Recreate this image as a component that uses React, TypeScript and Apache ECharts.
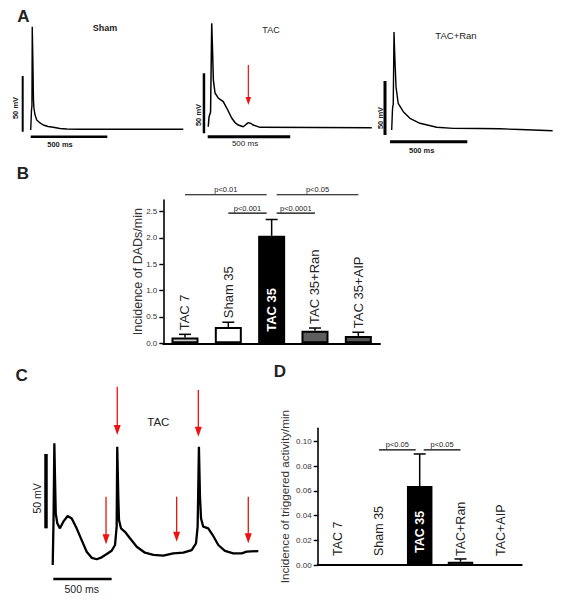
import React, { useEffect, useRef } from 'react';
import * as echarts from 'echarts';

const FONT = 'Liberation Sans, Arial, Helvetica, sans-serif';
const RED = '#ee1111';
const INK = '#222222';

// ---------- Panel A: action potential traces [time ms, potential mV] ----------
const shamTrace = [
  [70, -80.6], [75, -62.7], [78, -59], [80, 12.1], [84, -17.8], [88, -53.7], [91, -61], [98, -67],
  [109, -71.7], [131, -74.3], [152, -76.1], [183, -77.5], [217, -78.2], [261, -79.3], [305, -79.7],
  [392, -80], [1066, -80],
];
const tacTrace = [
  [50, -79.2], [55, -70.8], [64, -67], [71, 7], [76, -15.2], [81, -40.2], [91, -51.1], [111, -55.3],
  [141, -58.3], [162, -63.6], [192, -71.9], [212, -75.7], [232, -77.8], [262, -79.2], [279, -77.3],
  [293, -75.8], [309, -76.5], [323, -77.8], [364, -79.7], [1041, -80],
];
const ranTrace = [
  [108, -80.9], [113, -62.4], [114.5, -59.4], [118, -57.4], [123, 9.9], [129, -16.3], [136, -41],
  [150, -56.3], [183, -64], [226, -70.1], [291, -74.7], [399, -78.4], [506, -79.4], [679, -79.5],
  [809, -79.8], [938, -80.5], [1149, -81.6],
];
// arrows: [time, top mV, tip mV]
const arrowsA = [[293, -27.8, -61.1]];

// ---------- Panel C: triggered activity trace ----------
const cTrace = [
  [109, -88.3], [116, -58], [123, -6.4], [129, -31.1], [135, -53.5], [148, -60.2], [171, -63.6],
  [200, -59.1], [237, -55.3], [272, -56.9], [314, -63.6], [357, -71.5], [400, -79.3], [443, -83.4],
  [486, -84.4], [529, -83.1], [572, -80.9], [614, -78.7], [643, -74.8], [657, -62.5], [662, -8.7],
  [671, -42.3], [677, -58], [694, -63.6], [728, -65.9], [771, -70.3], [829, -76], [900, -80],
  [971, -81.5], [1057, -82], [1142, -80.4], [1228, -80], [1300, -78.2], [1337, -73.7], [1351, -62.5],
  [1362, -8.7], [1371, -42.3], [1380, -56.9], [1399, -62.5], [1442, -63.6], [1480, -68.1],
  [1528, -74.8], [1585, -78.7], [1656, -80.4], [1728, -80.4], [1771, -79.3], [1871, -78.9],
];
const arrowsC = [
  [662, 31.7, -0.8], [1357, 29.5, -1.9], [566, -42.3, -74.3], [1171, -42.3, -72.6], [1785, -42.3, -73.7],
];

// scale bars: vertical [t, v1, v2], horizontal [t1, t2, v]
const scaleV = [[17.6, -82.2, -32.2], [24, -84.7, -34.7], [64.7, -85.6, -35.6], [51.4, -63.6, -13.6]];
const scaleH = [[70, 570, -86.6], [46.7, 546.7, -87.5], [97, 597, -91.8], [114, 614, -97.7]];

// ---------- Panel B ----------
const catsB = ['TAC 7', 'Sham 35', 'TAC 35', 'TAC 35+Ran', 'TAC 35+AIP'];
const meanB = [0.11, 0.31, 2.04, 0.24, 0.14];
const semB = [0.06, 0.09, 0.31, 0.05, 0.07];
const ticksB = [0, 0.5, 1, 1.5, 2, 2.5];
const sigB = [[0, 2, 2.82], [2, 4, 2.82], [1, 2, 2.47], [2, 3, 2.47]];
const sigTextB = ['p<0.01', 'p<0.05', 'p<0.001', 'p<0.0001'];

// ---------- Panel D ----------
const catsD = ['TAC 7', 'Sham 35', 'TAC 35', 'TAC+Ran', 'TAC+AIP'];
const meanD = [0, 0, 0.064, 0.0027, 0];
const semD = [0, 0, 0.026, 0.0022, 0];
const ticksD = [0, 0.02, 0.04, 0.06, 0.08, 0.1];
const sigD = [[1, 2, 0.0933], [2, 3, 0.0933]];
const sigTextD = ['p<0.05', 'p<0.05'];

// styles
const barColorsB = ['#cdcdcd', '#ffffff', '#000000', '#5e5e5e', '#545454'];
const barColorsD = ['#ffffff', '#ffffff', '#000000', '#5e5e5e', '#ffffff'];
const PEAK = 2;

function traceGrid(left: number, top: number, width: number, height: number) {
  return { left, top, width, height, outerBoundsMode: 'none', containLabel: false };
}

function hiddenValueAxis(gridIndex: number, min: number, max: number) {
  return { type: 'value', gridIndex, min, max, show: false, splitLine: { show: false } };
}

function arrowRender(headW: number, headL: number, lw: number) {
  return (params: any, api: any) => {
    const p1 = api.coord([api.value(0), api.value(1)]);
    const p2 = api.coord([api.value(0), api.value(2)]);
    return {
      type: 'group',
      children: [
        { type: 'line', shape: { x1: p1[0], y1: p1[1], x2: p2[0], y2: p2[1] - headL + 1 }, style: { stroke: RED, lineWidth: lw } },
        {
          type: 'polygon',
          shape: { points: [[p2[0] - headW / 2, p2[1] - headL], [p2[0] + headW / 2, p2[1] - headL], [p2[0], p2[1]]] },
          style: { fill: RED },
        },
      ],
    };
  };
}

function barDeco(cats: string[], fontSize: number, mode: 'B' | 'D') {
  return (params: any, api: any) => {
    const i = params.dataIndex;
    const mean = api.value(1);
    const top = api.value(2);
    const base = api.coord([i, 0]);
    const pm = api.coord([i, mean]);
    const pt = api.coord([i, top]);
    const cx = base[0];
    const children: any[] = [];
    if (top > mean) {
      children.push({ type: 'line', shape: { x1: cx, y1: pm[1], x2: cx, y2: pt[1] }, style: { stroke: '#000', lineWidth: 1.5 } });
      children.push({ type: 'line', shape: { x1: cx - 6, y1: pt[1], x2: cx + 6, y2: pt[1] }, style: { stroke: '#000', lineWidth: 1.5 } });
    }
    const inside = i === PEAK;
    let ly: number;
    if (mode === 'B') ly = inside ? base[1] - 11.5 : pt[1] - 4;
    else ly = inside ? base[1] - 12 : base[1] - 9;
    children.push({
      type: 'text',
      x: cx,
      y: ly,
      rotation: Math.PI / 2,
      style: {
        text: cats[i],
        fill: inside ? '#ffffff' : INK,
        fontSize,
        fontFamily: FONT,
        fontWeight: inside ? 'bold' : 'normal',
        align: 'left',
        verticalAlign: 'middle',
      },
    });
    return { type: 'group', children };
  };
}

function sigRender(texts: string[], gap: number) {
  return (params: any, api: any) => {
    const a = api.value(0);
    const b = api.value(1);
    const lv = api.value(2);
    const p1 = api.coord([a, lv]);
    const p2 = api.coord([b, lv]);
    const x1 = p1[0] + (a === PEAK ? gap : 0);
    const x2 = p2[0] - (b === PEAK ? gap : 0);
    return {
      type: 'group',
      children: [
        { type: 'line', shape: { x1, y1: p1[1], x2, y2: p1[1] }, style: { stroke: '#000', lineWidth: 1.2 } },
        {
          type: 'text',
          x: (x1 + x2) / 2,
          y: p1[1] - 5,
          style: { text: texts[params.dataIndex], fill: INK, fontSize: 7.5, fontFamily: FONT, align: 'center', verticalAlign: 'middle' },
        },
      ],
    };
  };
}

function barValueAxis(gridIndex: number, max: number, ticks: number[], digits: number, name: string, nameGap: number, nameSize: number) {
  return {
    type: 'value',
    gridIndex,
    min: 0,
    max,
    interval: ticks[1] - ticks[0],
    axisLine: { show: true, lineStyle: { color: '#000', width: 1.6 } },
    axisTick: { show: true, length: 4, inside: false, customValues: ticks, lineStyle: { color: '#000', width: 1.4 } },
    axisLabel: {
      show: true,
      customValues: ticks,
      formatter: (v: number) => v.toFixed(digits),
      fontSize: 8,
      fontFamily: FONT,
      color: '#333',
      margin: 6,
    },
    splitLine: { show: false },
    name,
    nameLocation: 'middle',
    nameGap,
    nameMoveOverlap: false,
    nameTextStyle: { fontSize: nameSize, fontFamily: FONT, color: '#333' },
  };
}

function catAxis(gridIndex: number, cats: string[]) {
  return {
    type: 'category',
    gridIndex,
    data: cats,
    axisLine: { show: true, onZero: false, lineStyle: { color: '#000', width: 2 } },
    axisTick: { show: false },
    axisLabel: { show: false },
    splitLine: { show: false },
  };
}

function txt(text: string, x: number, y: number, fontSize: number, weight = 'normal', rot = 0) {
  return {
    type: 'text',
    x,
    y,
    rotation: rot,
    style: { text, fontSize, fontFamily: FONT, fontWeight: weight, fill: INK, align: 'center', verticalAlign: 'middle' },
  };
}

function buildOption() {
  const traceSeries: any[] = [];
  const traces = [shamTrace, tacTrace, ranTrace, cTrace];
  const traceWidths = [1.4, 1.5, 1.4, 2.3];
  const vWidths = [2, 2.5, 3, 3.5];
  const hWidths = [2.5, 3, 3, 2.5];
  traces.forEach((tr, g) => {
    traceSeries.push({
      type: 'line', xAxisIndex: g, yAxisIndex: g, data: tr, showSymbol: false, symbol: 'none',
      lineStyle: { color: '#000', width: traceWidths[g] }, silent: true,
    });
    const v = scaleV[g];
    traceSeries.push({
      type: 'line', xAxisIndex: g, yAxisIndex: g, data: [[v[0], v[1]], [v[0], v[2]]], symbol: 'none',
      lineStyle: { color: '#000', width: vWidths[g], cap: 'butt' }, silent: true,
    });
    const h = scaleH[g];
    traceSeries.push({
      type: 'line', xAxisIndex: g, yAxisIndex: g, data: [[h[0], h[2]], [h[1], h[2]]], symbol: 'none',
      lineStyle: { color: '#000', width: hWidths[g], cap: 'butt' }, silent: true,
    });
  });

  return {
    animation: false,
    backgroundColor: '#ffffff',
    grid: [
      traceGrid(20, 17.9, 168.5, 133.7),
      traceGrid(200, 7.7, 181.5, 144),
      traceGrid(375, 21, 185.5, 129.6),
      traceGrid(40, 374.4, 221.7, 222.9),
      traceGrid(163.3, 200, 216.7, 143.3),
      traceGrid(317.7, 428.3, 204, 136.7),
    ],
    xAxis: [
      hiddenValueAxis(0, 0, 1100),
      hiddenValueAxis(1, 0, 1100),
      hiddenValueAxis(2, 0, 1200),
      hiddenValueAxis(3, 0, 1900),
      catAxis(4, catsB),
      catAxis(5, catsD),
    ],
    yAxis: [
      hiddenValueAxis(0, -100, 20),
      hiddenValueAxis(1, -100, 20),
      hiddenValueAxis(2, -100, 20),
      hiddenValueAxis(3, -110, 40),
      barValueAxis(4, 2.72, ticksB, 1, 'Incidence of DADs/min', 18.5, 12.5),
      barValueAxis(5, 0.1108, ticksD, 2, 'Incidence of triggered activity/min', 27, 11.7),
    ],
    series: [
      ...traceSeries,
      {
        type: 'custom', xAxisIndex: 1, yAxisIndex: 1, data: arrowsA,
        renderItem: arrowRender(5.5, 8, 1.2), silent: true,
      },
      {
        type: 'custom', xAxisIndex: 3, yAxisIndex: 3, data: arrowsC,
        renderItem: arrowRender(7, 10, 1.3), silent: true,
      },
      {
        type: 'bar', xAxisIndex: 4, yAxisIndex: 4, barWidth: 27,
        data: meanB.map((v, i) => ({ value: v, itemStyle: { color: barColorsB[i], borderColor: '#000', borderWidth: 2 } })),
        silent: true,
      },
      {
        type: 'custom', xAxisIndex: 4, yAxisIndex: 4,
        data: meanB.map((m, i) => [i, m, m + semB[i]]),
        renderItem: barDeco(catsB, 13, 'B'), silent: true, z: 5,
      },
      {
        type: 'custom', xAxisIndex: 4, yAxisIndex: 4, data: sigB,
        renderItem: sigRender(sigTextB, 5), silent: true,
      },
      {
        type: 'bar', xAxisIndex: 5, yAxisIndex: 5, barWidth: 25.5,
        data: meanD.map((v, i) => ({ value: v, itemStyle: { color: barColorsD[i], borderColor: '#000', borderWidth: v > 0 ? 1.5 : 0 } })),
        silent: true,
      },
      {
        type: 'custom', xAxisIndex: 5, yAxisIndex: 5,
        data: meanD.map((m, i) => [i, m, m + semD[i]]),
        renderItem: barDeco(catsD, 12.5, 'D'), silent: true, z: 5,
      },
      {
        type: 'custom', xAxisIndex: 5, yAxisIndex: 5, data: sigD,
        renderItem: sigRender(sigTextD, 4), silent: true,
      },
    ],
    graphic: [
      txt('A', 23.3, 16.7, 17, 'bold'),
      txt('B', 23, 173, 17, 'bold'),
      txt('C', 21.7, 375, 17, 'bold'),
      txt('D', 280, 371.7, 17, 'bold'),
      txt('Sham', 105, 28, 9, 'bold'),
      txt('50 mV', 15, 108, 7.5, 'bold', Math.PI / 2),
      txt('500 ms', 60, 144, 7.5, 'bold'),
      txt('TAC', 271, 30, 9),
      txt('50 mV', 198.3, 115, 7.5, 'bold', Math.PI / 2),
      txt('500 ms', 245, 143.3, 8),
      txt('TAC+Ran', 456, 35, 9.5),
      txt('50 mV', 380, 118, 7.5, 'bold', Math.PI / 2),
      txt('500 ms', 421.7, 150, 7.5, 'bold'),
      txt('TAC', 158.3, 421.7, 11.5),
      txt('50 mV', 36.7, 498.3, 10.5, 'normal', Math.PI / 2),
      txt('500 ms', 81.7, 589.3, 10.5),
    ],
  };
}

export default function App() {
  const ref = useRef<HTMLDivElement>(null);
  useEffect(() => {
    if (!ref.current) return;
    const chart = echarts.init(ref.current, null, { renderer: 'svg' });
    chart.setOption(buildOption() as any);
    return () => chart.dispose();
  }, []);
  return (
    <div
      ref={ref}
      style={{ position: 'fixed', left: 0, top: 0, width: 562, height: 600, background: '#ffffff' }}
    />
  );
}
